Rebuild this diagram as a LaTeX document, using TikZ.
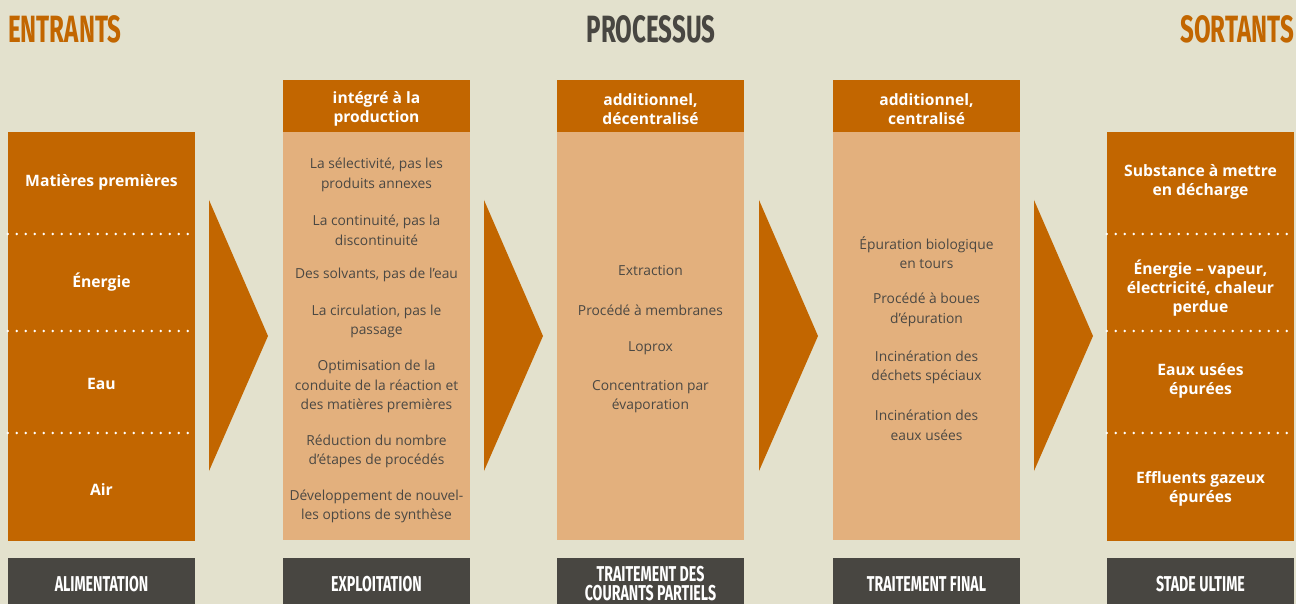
\documentclass[tikz,border=0pt]{standalone}
\usepackage{fontspec}
\setmainfont{Open Sans}
\setsansfont{Open Sans}
\newfontfamily\titlefont[FakeStretch=0.635]{Fira Sans}
\newfontfamily\footfont[FakeStretch=0.66]{Fira Sans}
\definecolor{bgcol}{HTML}{E3E1CD}
\definecolor{rust}{HTML}{C26600}
\definecolor{sand}{HTML}{E3B07D}
\definecolor{slate}{HTML}{484641}
\definecolor{ink}{HTML}{4B4843}
\tikzset{
  colbox/.style={draw=none, minimum width=187pt, inner sep=0pt, anchor=north},
  hdrtext/.style={text=white, align=center, yshift=-2.5pt, font=\fontsize{15.6}{19}\selectfont\bfseries},
  bodytext/.style={text=ink, align=center, inner sep=0pt, yshift=-2pt, font=\fontsize{13.8}{19.5}\selectfont},
  sidetext/.style={text=white, align=center, inner sep=0pt, yshift=-1.5pt, font=\fontsize{15.7}{19}\selectfont\bfseries},
  footbox/.style={fill=slate, minimum width=187pt, minimum height=46pt, inner sep=0pt, anchor=north},
  footlabel/.style={text=white, align=center, inner sep=0pt, font=\fontsize{21.5}{19}\selectfont\footfont\bfseries},
  title/.style={inner sep=0pt, font=\fontsize{38}{40}\selectfont\titlefont\bfseries},
  chevron/.style={fill=rust, draw=none},
  sep/.style={white, line width=2.8pt, line cap=round, dash pattern=on 0pt off 9pt}
}
\begin{document}
\begin{tikzpicture}[x=1pt, y=-1pt]
\useasboundingbox (0,0) rectangle (1296,604);
\fill[bgcol] (0,0) rectangle (1296,604);

% titles
\node[title, text=rust, anchor=base west] (tin) at (8,43) {ENTRANTS};
\node[title, text=slate, anchor=base] (tproc) at (651,43) {PROCESSUS};
\node[title, text=rust, anchor=base east] (tout) at (1294,43) {SORTANTS};

% input column
\node[colbox, fill=rust, minimum height=409pt] (inbox) at (101.5,132) {};
\draw[sep] (inbox.west |- 0,234) -- (inbox.east |- 0,234);
\draw[sep] (inbox.west |- 0,331) -- (inbox.east |- 0,331);
\draw[sep] (inbox.west |- 0,433) -- (inbox.east |- 0,433);
\node[sidetext] (in1) at (101.5,181) {Matières premières};
\node[sidetext] (in2) at (101.5,281) {Énergie};
\node[sidetext] (in3) at (101.5,382) {Eau};
\node[sidetext] (in4) at (101.5,488) {Air};

% process columns: header and body
\node[colbox, fill=rust, minimum height=52pt] (h2) at (376.5,80) {};
\node[colbox, fill=sand, minimum height=408pt] (b2) at (376.5,132) {};
\node[hdrtext] (h2t) at (h2.center) {intégré à la\\production};

\node[colbox, fill=rust, minimum height=52pt] (h3) at (650.5,80) {};
\node[colbox, fill=sand, minimum height=408pt] (b3) at (650.5,132) {};
\node[hdrtext] (h3t) at (h3.center) {additionnel,\\décentralisé};

\node[colbox, fill=rust, minimum height=52pt] (h4) at (926.5,80) {};
\node[colbox, fill=sand, minimum height=408pt] (b4) at (926.5,132) {};
\node[hdrtext] (h4t) at (h4.center) {additionnel,\\centralisé};

% integrated measures
\node[bodytext] (p1) at (376.5,173) {La sélectivité, pas les\\produits annexes};
\node[bodytext] (p2) at (376.5,228.5) {La continuité, pas la\\discontinuité};
\node[bodytext] (p3) at (376.5,273) {Des solvants, pas de l'eau};
\node[bodytext] (p4) at (376.5,319.5) {La circulation, pas le\\passage};
\node[bodytext] (p5) at (376.5,384.5) {Optimisation de la\\conduite de la réaction et\\des matières premières};
\node[bodytext] (p6) at (376.5,449.5) {Réduction du nombre\\d'étapes de procédés};
\node[bodytext] (p7) at (376.5,504.5) {Développement de nouvel-\\les options de synthèse};

% decentralised treatment
\node[bodytext] (d1) at (650.5,269) {Extraction};
\node[bodytext] (d2) at (650.5,308) {Procédé à membranes};
\node[bodytext] (d3) at (650.5,346) {Loprox};
\node[bodytext] (d4) at (650.5,394.5) {Concentration par\\évaporation};

% centralised treatment
\node[bodytext] (c1) at (926.5,250.5) {Épuration biologique\\en tours};
\node[bodytext] (c2) at (926.5,308) {Procédé à boues\\d'épuration};
\node[bodytext] (c3) at (926.5,365.5) {Incinération des\\déchets spéciaux};
\node[bodytext] (c4) at (926.5,423.5) {Incinération des\\eaux usées};

% output column
\node[colbox, fill=rust, minimum height=409pt] (outbox) at (1200.5,132) {};
\draw[sep] (outbox.west |- 0,234) -- (outbox.east |- 0,234);
\draw[sep] (outbox.west |- 0,331) -- (outbox.east |- 0,331);
\draw[sep] (outbox.west |- 0,433) -- (outbox.east |- 0,433);
\node[sidetext] (o1) at (1200.5,180.5) {Substance à mettre\\en décharge};
\node[sidetext] (o2) at (1200.5,286.5) {Énergie – vapeur,\\électricité, chaleur\\perdue};
\node[sidetext] (o3) at (1200.5,379.5) {Eaux usées\\épurées};
\node[sidetext] (o4) at (1200.5,487.5) {Effluents gazeux\\épurées};

% chevrons between the columns
\foreach \xa in {209,484,759,1034}{
  \fill[chevron] (\xa,200) -- (\xa+59,336) -- (\xa,471) -- cycle;
}

% stage labels
\node[footbox] (f1) at (101.5,558) {};
\node[footbox] (f2) at (376.5,558) {};
\node[footbox] (f3) at (650.5,558) {};
\node[footbox] (f4) at (926.5,558) {};
\node[footbox] (f5) at (1200.5,558) {};
\node[footlabel] (f1t) at ([yshift=-3pt]f1.center) {ALIMENTATION};
\node[footlabel] (f2t) at ([yshift=-3pt]f2.center) {EXPLOITATION};
\node[footlabel] (f3t) at ([yshift=-2pt]f3.center) {TRAITEMENT DES\\COURANTS PARTIELS};
\node[footlabel] (f4t) at ([yshift=-3pt]f4.center) {TRAITEMENT FINAL};
\node[footlabel] (f5t) at ([yshift=-3pt]f5.center) {STADE ULTIME};
\end{tikzpicture}
\end{document}
